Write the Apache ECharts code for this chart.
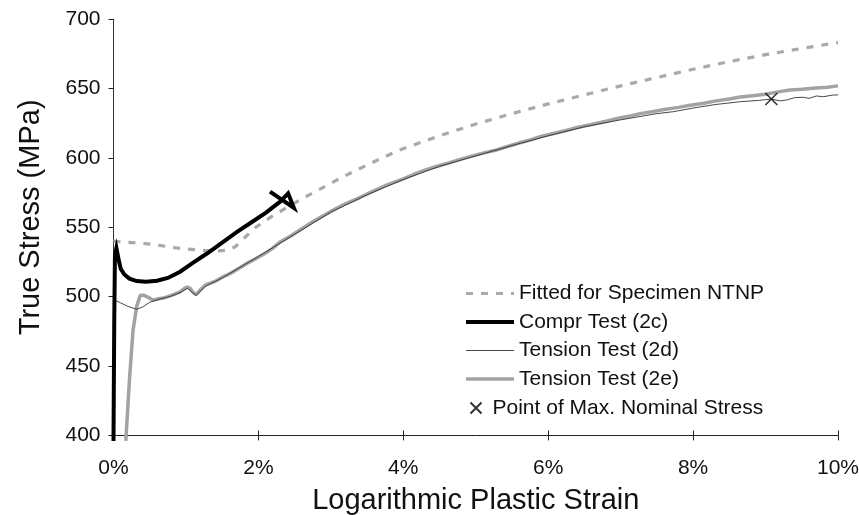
<!DOCTYPE html>
<html>
<head>
<meta charset="utf-8">
<title>True Stress vs Logarithmic Plastic Strain</title>
<script src="https://cdn.jsdelivr.net/npm/echarts@6/dist/echarts.min.js"></script>
<style>
  html, body { margin: 0; padding: 0; background: #ffffff; }
  #chart { width: 859px; height: 515px; }
</style>
</head>
<body>
<div id="chart"></div>
<script>
// Axis ticks
const strainTicks = [0, 2, 4, 6, 8, 10];          // %
const stressTicks = [400, 450, 500, 550, 600, 650, 700]; // MPa

// Series names
const seriesNames = [
  'Fitted for Specimen NTNP',
  'Compr Test (2c)',
  'Tension Test (2d)',
  'Tension Test (2e)',
  'Point of Max. Nominal Stress'
];

// [strain %, true stress MPa]
const fittedNTNP = [
  [0, 540], [0.3, 538.8], [0.55, 537.8], [0.8, 535.6], [1.0, 534.4], [1.25, 533.4],
  [1.45, 533], [1.58, 533.5], [1.68, 536], [1.8, 542], [1.95, 549.5], [2.18, 557.7],
  [2.57, 569.7], [3.15, 586], [3.5, 595], [3.95, 605.8], [4.5, 616], [5.0, 624.5],
  [5.5, 632], [6.0, 639], [6.5, 645.5], [7.0, 652], [7.5, 658], [8.0, 664],
  [8.5, 669.5], [9.0, 674.5], [9.5, 679], [10.0, 683.2]
];

const comprTest2c = [
  [0, 396], [0.01, 480], [0.02, 530], [0.04, 535], [0.07, 527], [0.1, 520],
  [0.15, 516], [0.22, 513], [0.32, 511.3], [0.45, 510.8], [0.6, 511.5], [0.75, 513.5],
  [0.92, 518], [1.1, 524.5], [1.3, 531.5], [1.5, 539], [1.7, 546.5], [1.9, 553.5],
  [2.1, 560.5], [2.3, 568.5], [2.41, 574.5], [2.49, 564], [2.16, 575.7]
];

const tensionTest2d = [
  [0.02, 497.5], [0.1, 495.5], [0.2, 493], [0.32, 491], [0.4, 492.5], [0.5, 496],
  [0.62, 498], [0.8, 500.5], [0.92, 503], [1.02, 506], [1.1, 502.5], [1.14, 501],
  [1.27, 507.5], [1.5, 513.5], [2.0, 529], [2.5, 545], [3.0, 561], [3.5, 573.5],
  [4.0, 584.5], [4.5, 594], [5.0, 601.5], [5.5, 609], [6.0, 616], [6.5, 622.5],
  [7.0, 627.5], [7.5, 632], [7.73, 633.4], [8.0, 636], [8.3, 638.5], [8.65, 640.6],
  [8.9, 641.5], [9.08, 642.5], [9.2, 641.2], [9.29, 641.8], [9.4, 643.5], [9.52, 643.8],
  [9.6, 643], [9.7, 644.7], [9.8, 644.2], [9.93, 645.4], [10.0, 645.5]
];

const tensionTest2e = [
  [0.17, 396], [0.22, 440], [0.27, 476], [0.32, 493], [0.37, 501], [0.42, 501],
  [0.48, 499.5], [0.55, 497.5], [0.62, 498.5], [0.69, 499], [0.8, 501], [0.92, 503.5],
  [0.98, 506], [1.02, 507], [1.06, 506], [1.1, 503], [1.14, 501.5], [1.2, 505],
  [1.27, 508.5], [1.4, 511], [1.5, 514], [1.62, 517], [1.75, 521], [1.84, 524],
  [1.95, 527], [2.1, 531.5], [2.2, 535], [2.3, 539.5], [2.45, 544], [2.6, 549],
  [2.75, 554], [2.85, 557], [3.0, 561.5], [3.2, 567], [3.4, 571.5], [3.54, 575],
  [3.75, 580], [4.0, 585], [4.23, 590], [4.4, 593], [4.6, 596], [4.75, 598.5],
  [4.92, 601], [5.1, 603.5], [5.3, 606], [5.45, 608.5], [5.61, 611], [5.75, 613],
  [5.9, 615.5], [6.1, 618], [6.26, 620], [6.4, 622], [6.58, 624], [6.8, 626.5],
  [7.0, 629], [7.15, 630.5], [7.27, 632], [7.45, 633.5], [7.6, 635], [7.8, 636.5],
  [7.96, 638], [8.15, 639.5], [8.3, 641], [8.5, 642.5], [8.65, 644], [8.85, 645],
  [9.0, 646], [9.15, 647.5], [9.34, 649], [9.5, 649.5], [9.7, 650.5], [9.85, 651],
  [10.0, 652]
];

const maxNominalStress = [[9.08, 642.5]];

const FONT = "'Liberation Sans', Arial, Helvetica, sans-serif";
const crossPath = 'path://M0,0L10,10M10,0L0,10';

const tickInterval = (ticks) => ticks[1] - ticks[0];

const chart = echarts.init(document.getElementById('chart'), null, { renderer: 'canvas' });

chart.setOption({
  backgroundColor: '#ffffff',
  animation: false,
  textStyle: { fontFamily: FONT },
  grid: {
    left: 113.5, right: 21, top: 19.3, bottom: 79.6,
    containLabel: false,
    outerBoundsMode: 'none'
  },
  xAxis: [
    {
      type: 'value',
      min: strainTicks[0],
      max: strainTicks[strainTicks.length - 1],
      interval: tickInterval(strainTicks),
      name: 'Logarithmic Plastic Strain',
      nameLocation: 'middle',
      nameGap: 51,
      nameTextStyle: { fontFamily: FONT, fontSize: 29, color: '#111' },
      axisLine: { show: true, lineStyle: { color: '#222', width: 1 } },
      axisTick: { show: true, inside: false, length: 5, lineStyle: { color: '#222' } },
      axisLabel: { margin: 22, fontFamily: FONT, fontSize: 21, color: '#111', formatter: '{value}%' },
      splitLine: { show: false }
    },
    {
      // upward tick marks on the bottom edge
      type: 'value',
      position: 'top',
      offset: -416.1,
      min: strainTicks[0],
      max: strainTicks[strainTicks.length - 1],
      interval: tickInterval(strainTicks),
      axisLine: { show: false },
      axisTick: { show: true, inside: false, length: 5, lineStyle: { color: '#222' } },
      axisLabel: { show: false },
      splitLine: { show: false }
    }
  ],
  yAxis: [
    {
      type: 'value',
      min: stressTicks[0],
      max: stressTicks[stressTicks.length - 1],
      interval: tickInterval(stressTicks),
      name: 'True Stress (MPa)',
      nameLocation: 'middle',
      nameRotate: 90,
      nameGap: 68,
      nameTextStyle: { fontFamily: FONT, fontSize: 29, color: '#111', padding: [0, 0, 0, 20] },
      axisLine: { show: true, lineStyle: { color: '#222', width: 1 } },
      axisTick: { show: true, inside: false, length: 5, lineStyle: { color: '#222' } },
      axisLabel: { margin: 13, fontFamily: FONT, fontSize: 21, color: '#111' },
      splitLine: { show: false }
    },
    {
      // right frame edge
      type: 'value',
      position: 'right',
      min: stressTicks[0],
      max: stressTicks[stressTicks.length - 1],
      interval: tickInterval(stressTicks),
      axisLine: { show: true, lineStyle: { color: '#333', width: 1 } },
      axisTick: { show: false },
      axisLabel: { show: false },
      splitLine: { show: false }
    }
  ],
  legend: [
    {
      data: seriesNames.slice(0, 4),
      orient: 'vertical',
      left: 464,
      top: 283,
      padding: 0,
      itemWidth: 48,
      itemHeight: 14,
      itemGap: 7.5,
      itemStyle: { opacity: 0 },
      lineStyle: { width: 'inherit' },
      textStyle: { fontFamily: FONT, fontSize: 21, color: '#111' },
      selectedMode: false
    },
    {
      data: [seriesNames[4]],
      orient: 'vertical',
      left: 468,
      top: 397.5,
      padding: 0,
      itemWidth: 11,
      itemHeight: 11,
      textStyle: { fontFamily: FONT, fontSize: 21, color: '#111', padding: [0, 0, 0, 6] },
      selectedMode: false
    }
  ],
  series: [
    {
      name: seriesNames[0],
      type: 'line',
      data: fittedNTNP,
      symbol: 'none',
      z: 2,
      lineStyle: { color: '#a9a9a9', width: 3.2, type: [7, 8] }
    },
    {
      name: seriesNames[3],
      type: 'line',
      data: tensionTest2e,
      symbol: 'none',
      clip: false,
      z: 3,
      lineStyle: { color: '#a3a3a3', width: 3.5 }
    },
    {
      name: seriesNames[2],
      type: 'line',
      data: tensionTest2d,
      symbol: 'none',
      z: 4,
      lineStyle: { color: '#333333', width: 0.9 }
    },
    {
      name: seriesNames[1],
      type: 'line',
      data: comprTest2c,
      symbol: 'none',
      clip: false,
      z: 5,
      lineStyle: { color: '#000000', width: 4, join: 'miter' }
    },
    {
      name: seriesNames[4],
      type: 'scatter',
      data: maxNominalStress,
      symbol: crossPath,
      symbolSize: 12,
      z: 6,
      itemStyle: { color: 'none', borderColor: '#000', borderWidth: 1.6 }
    }
  ]
});
</script>
</body>
</html>
